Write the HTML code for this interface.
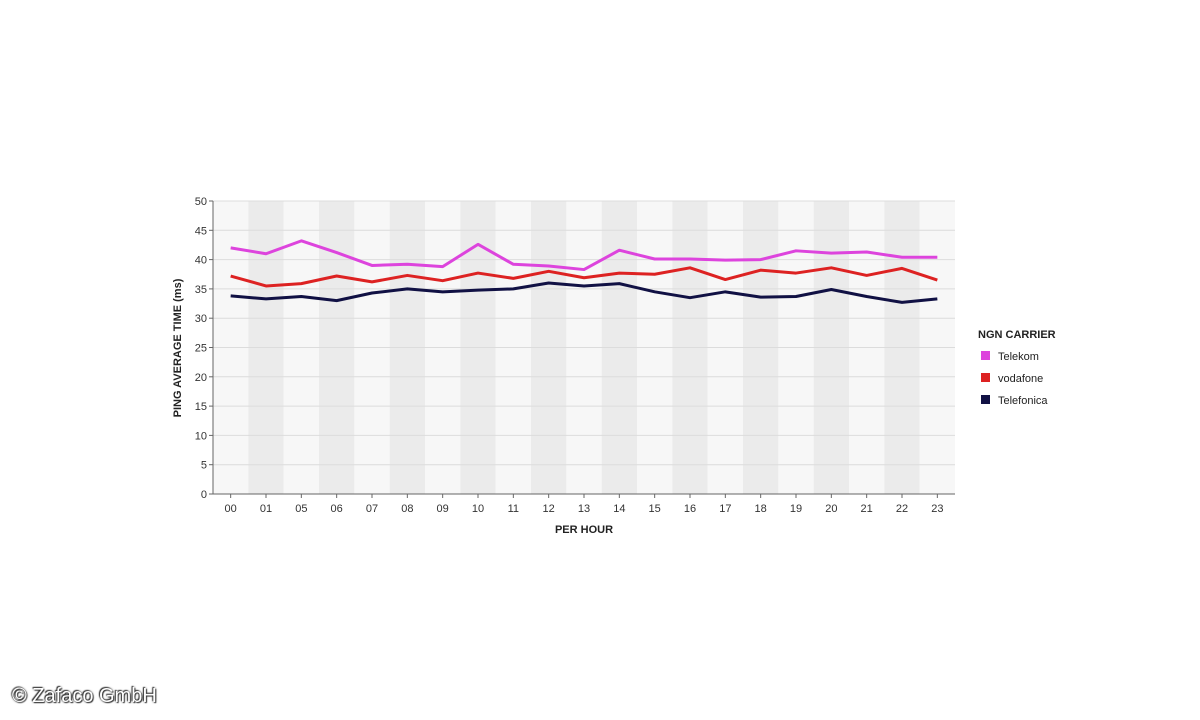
<!DOCTYPE html>
<html><head><meta charset="utf-8"><style>
body{margin:0;background:#fff;width:1200px;height:720px;overflow:hidden;font-family:"Liberation Sans",sans-serif}
svg text{font-family:"Liberation Sans",sans-serif}
.copy{position:absolute;left:12px;top:685px;font-size:20px;color:#fff;text-shadow:0 0 2px #333,1px 1px 1px #333,-1px -1px 1px #333;}
</style></head><body>
<svg id="chart" width="1200" height="720" style="position:absolute;left:0;top:0"></svg>
<div class="copy">© Zafaco GmbH</div>
<script>
const categories=["00","01","05","06","07","08","09","10","11","12","13","14","15","16","17","18","19","20","21","22","23"];
const telekom=[42,41,43.2,41.2,39,39.2,38.8,42.6,39.2,38.9,38.3,41.6,40.1,40.1,39.9,40,41.5,41.1,41.3,40.4,40.4];
const vodafone=[37.2,35.5,35.9,37.2,36.2,37.3,36.4,37.7,36.8,38,36.9,37.7,37.5,38.6,36.6,38.2,37.7,38.6,37.3,38.5,36.5];
const telefonica=[33.8,33.3,33.7,33,34.3,35,34.5,34.8,35,36,35.5,35.9,34.5,33.5,34.5,33.6,33.7,34.9,33.7,32.7,33.3];
const yTicks=[0,5,10,15,20,25,30,35,40,45,50];
const seriesNames=["Telekom","vodafone","Telefonica"];
const seriesColors=["#dd44dd","#dd2222","#111144"];

const NS="http://www.w3.org/2000/svg";
const svg=document.getElementById('chart');
const L=213,R=955,T=201,B=494;
const bw=(R-L)/categories.length;
const x=i=>L+bw*(i+0.5);
const y=v=>B-(v/50)*(B-T);
function mk(tag,attrs,parent){const e=document.createElementNS(NS,tag);for(const k in attrs)e.setAttribute(k,attrs[k]);(parent||svg).appendChild(e);return e;}

categories.forEach((c,i)=>{
  const r=mk('rect',{x:L+bw*i,y:T,width:bw,height:B-T,fill:i%2?'#ebebeb':'#f7f7f7'});
  
  
});
yTicks.forEach(t=>{
  const g=mk('line',{x1:L,x2:R,y1:y(t),y2:y(t),stroke:'#dcdcdc','stroke-width':1});
  
  
  mk('line',{x1:L-4,x2:L,y1:y(t),y2:y(t),stroke:'#666'});
  const tx=mk('text',{x:L-6,y:y(t)+4,'text-anchor':'end','font-size':11,fill:'#333'});
  tx.textContent=t;
  
  
});
mk('line',{x1:L,x2:L,y1:T,y2:B,stroke:'#666'});
mk('line',{x1:L,x2:R,y1:B,y2:B,stroke:'#666'});
categories.forEach((c,i)=>{
  mk('line',{x1:x(i),x2:x(i),y1:B,y2:B+4,stroke:'#666'});
  const tx=mk('text',{x:x(i),y:B+18,'text-anchor':'middle','font-size':11,fill:'#333'});
  tx.textContent=c;
  
  
});
const xt=mk('text',{x:584,y:533,'text-anchor':'middle','font-size':11,'font-weight':'bold',fill:'#222'});
xt.textContent='PER HOUR';


const yt=mk('text',{x:0,y:0,'text-anchor':'middle','font-size':11,'font-weight':'bold',fill:'#222',transform:'translate(181,348) rotate(-90)'});
yt.textContent='PING AVERAGE TIME (ms)';



[telekom,vodafone,telefonica].forEach((s,si)=>{
  const p=mk('polyline',{points:s.map((v,i)=>x(i)+','+y(v)).join(' '),fill:'none',stroke:seriesColors[si],'stroke-width':3,'stroke-linejoin':'round'});
  
  
});

const lt=mk('text',{x:978,y:338,'font-size':11,'font-weight':'bold',fill:'#222'});
lt.textContent='NGN CARRIER';


seriesNames.forEach((n,i)=>{
  const g=mk('g',{});
  
  
  mk('rect',{x:981,y:351+i*22,width:9,height:9,fill:seriesColors[i]},g);
  const t=mk('text',{x:998,y:360+i*22,'font-size':11,fill:'#222'},g);
  t.textContent=n;
});
</script>
</body></html>
